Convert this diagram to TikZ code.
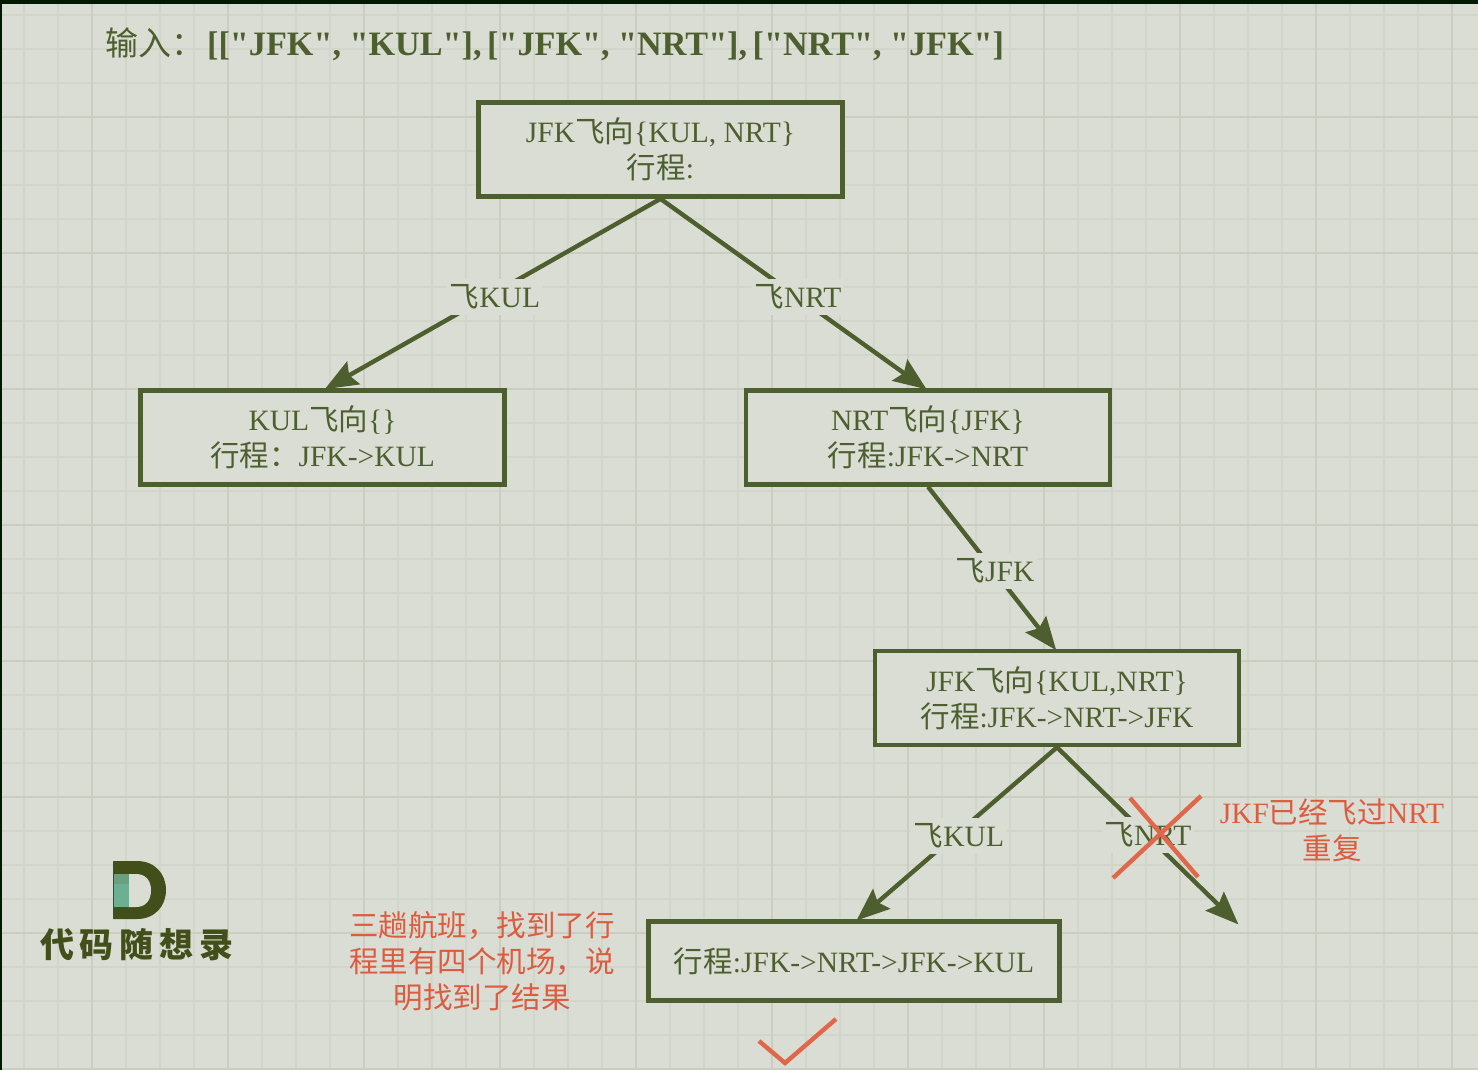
\documentclass[tikz,border=0pt]{standalone}
\usepackage{fontspec}
\setmainfont{Liberation Serif}
\newfontfamily\titlefont{Liberation Serif}
\newfontfamily\cjk{Noto Sans CJK SC}
\newcommand{\Zh}[1]{{\cjk #1}}
\usetikzlibrary{arrows.meta}
\definecolor{bgc}{HTML}{DADDD4}
\definecolor{minorc}{HTML}{D2D5C9}
\definecolor{majorc}{HTML}{CACDC0}
\definecolor{edgec}{HTML}{4D5F2E}
\definecolor{redc}{HTML}{E0674A}
\definecolor{redtext}{HTML}{DD5C3F}
\definecolor{barc}{HTML}{001A00}
\definecolor{logoc}{HTML}{434F1A}
\definecolor{tealc}{HTML}{6BAF94}
\definecolor{tealdark}{HTML}{6A9F80}
\tikzset{
  x=1pt,y=-1pt,
  flowbox/.style={draw=edgec,line width=4.6pt,fill=bgc,minimum width=364pt,minimum height=94pt,
    align=center,inner sep=0pt,text=edgec,font=\fontsize{29.5}{36}\selectfont},
  flowarrow/.style={draw=edgec,line width=4.4pt,-{Stealth[length=33pt,width=26pt,inset=5pt]},shorten >=-2pt},
  edgelabel/.style={fill=bgc,text=edgec,inner xsep=3pt,inner ysep=6pt,font=\fontsize{29.5}{36}\selectfont},
  redmark/.style={draw=redc,line width=4.4pt},
  rednote/.style={text=redtext,align=center,inner sep=0pt,font=\fontsize{29.5}{36}\selectfont},
}
\begin{document}
\begin{tikzpicture}
\useasboundingbox (0,0) rectangle (1478,1070);
\fill[bgc] (0,0) rectangle (1478,1070);
% grid
\foreach \k in {-2,...,41}{
  \pgfmathsetmacro{\gx}{91.7+34*\k}
  \draw[minorc,line width=1.6pt] (\gx,0) -- (\gx,1070);
}
\foreach \k in {-3,...,29}{
  \pgfmathsetmacro{\gy}{117+34*\k}
  \draw[minorc,line width=1.6pt] (0,\gy) -- (1478,\gy);
}
\foreach \k in {0,...,10}{
  \pgfmathsetmacro{\gx}{91.7+136*\k}
  \draw[majorc,line width=2pt] (\gx,0) -- (\gx,1070);
}
\foreach \k in {0,...,7}{
  \pgfmathsetmacro{\gy}{117+136*\k}
  \draw[majorc,line width=2pt] (0,\gy) -- (1478,\gy);
}
\fill[barc] (0,0) rectangle (1478,4.5);
\fill[barc] (0,0) rectangle (2,1070);
% title
\node[anchor=west,inner sep=0pt,text=edgec,font=\fontsize{34.2}{40}\selectfont] (title) at (105,44)
  {{\fontsize{33}{40}\selectfont\cjk 输入：}\hspace{3pt}{\titlefont\bfseries [["JFK", "KUL"],\hspace{-3pt} ["JFK", "NRT"],\hspace{-3pt} ["NRT", "JFK"]}};
% boxes
\node[flowbox] (top) at (660.5,149.5) {JFK\Zh{飞向}\{KUL, NRT\}\\\Zh{行程}:};
\node[flowbox] (kul) at (322.5,437.5) {KUL\Zh{飞向}\{\}\\\Zh{行程：}JFK->KUL};
\node[flowbox] (nrt) at (928,437.5) {NRT\Zh{飞向}\{JFK\}\\\Zh{行程}:JFK->NRT};
\node[flowbox] (jfk) at (1057,698) {JFK\Zh{飞向}\{KUL,NRT\}\\\Zh{行程}:JFK->NRT->JFK};
\node[flowbox,minimum width=411pt,minimum height=79pt] (final) at (854,961) {\Zh{行程}:JFK->NRT->JFK->KUL};
\coordinate (dead) at (1237,923);
% connectors
\draw[flowarrow] (top.south) -- ([xshift=4pt]kul.north);
\draw[flowarrow] (top.south) -- ([xshift=-3pt]nrt.north);
\draw[flowarrow] (nrt.south) -- ([xshift=-2pt]jfk.north);
\draw[flowarrow] (jfk.south) -- ([xshift=4pt]final.north);
\draw[flowarrow] (jfk.south) -- (dead);
% connector labels
\node[edgelabel] (l1) at (495,297) {\Zh{飞}KUL};
\node[edgelabel] (l2) at (798,297) {\Zh{飞}NRT};
\node[edgelabel] (l3) at (995,571) {\Zh{飞}JFK};
\node[edgelabel] (l4) at (959,836) {\Zh{飞}KUL};
\node[edgelabel] (l5) at (1148,835) {\Zh{飞}NRT};
% red marks
\coordinate (c1) at (1130,798);
\coordinate (c2) at (1198,877);
\coordinate (c3) at (1201,796);
\coordinate (c4) at (1113,878);
\draw[redmark] (c1) -- (c2);
\draw[redmark] (c3) -- (c4);
\coordinate (t1) at (759,1041);
\coordinate (t2) at (785,1063);
\coordinate (t3) at (836,1019);
\draw[redmark] (t1) -- (t2) -- (t3);
% notes
\node[rednote] (n1) at (1332,830) {JKF\Zh{已经飞过}NRT\\\Zh{重复}};
\node[rednote] (n2) at (482,961) {\Zh{三趟航班，找到了行}\\\Zh{程里有四个机场，说}\\\Zh{明找到了结果}};
% logo
\fill[logoc] (113,861) -- (137,861) .. controls (155,861) and (166,874) .. (166,890)
  .. controls (166,906) and (155,919) .. (137,919) -- (113,919) -- cycle;
\fill[bgc] (128,874) -- (136,874) .. controls (146,874) and (151,881) .. (151,890)
  .. controls (151,900) and (146,907) .. (136,907) -- (128,907) -- cycle;
\fill[tealc] (113.5,874) rectangle (128.5,907);
\fill[tealdark] (113.5,874) rectangle (128.5,884);
\node[text=logoc,inner sep=0pt,font=\fontsize{34}{40}\selectfont\cjk\bfseries] (logo) at (137,945)
  {代\hspace{6pt}码\hspace{6pt}随\hspace{6pt}想\hspace{6pt}录};
\end{tikzpicture}
\end{document}
